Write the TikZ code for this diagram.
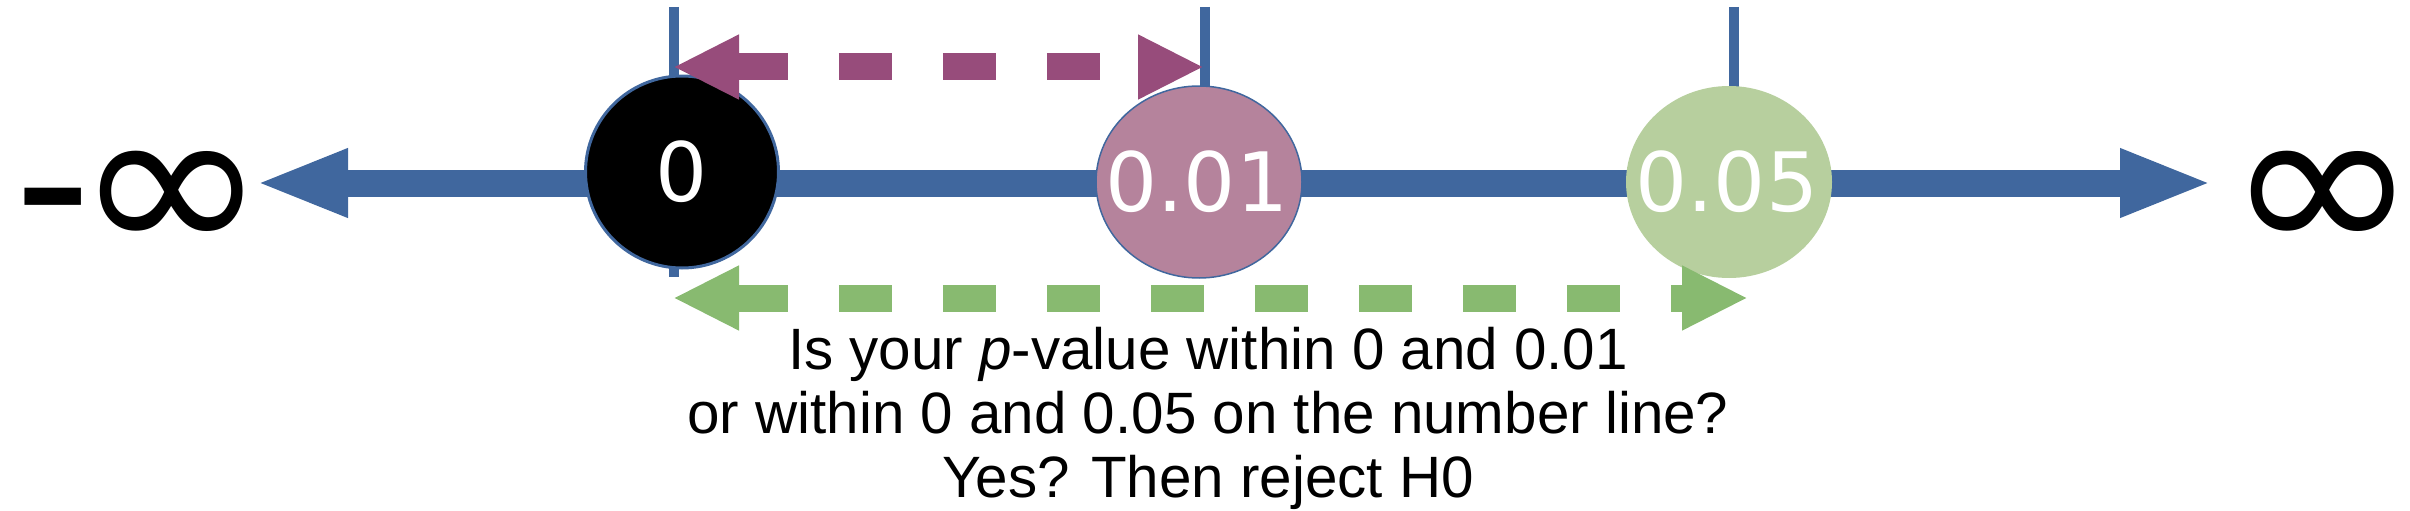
\documentclass[tikz,border=0pt]{standalone}
\usepackage{fontspec}
\setmainfont{Liberation Sans}
\newfontfamily\dejavu{DejaVu Sans}
\usetikzlibrary{positioning,shapes.geometric,arrows.meta}
\definecolor{lineblue}{RGB}{64,103,158}
\definecolor{plum}{RGB}{151,76,123}
\definecolor{plumlight}{RGB}{181,131,156}
\definecolor{leaf}{RGB}{136,186,112}
\definecolor{leaflight}{RGB}{183,207,158}

\begin{document}
\begin{tikzpicture}[x=0.1mm, y=0.1mm, value/.style={ellipse, inner sep=0pt, minimum width=20.6mm, minimum height=19.2mm}, valuetext/.style={inner sep=0pt, text=white, font=\dejavu\fontsize{23.3}{28}\selectfont}, infty/.style={inner sep=0pt, font=\dejavu\fontsize{61}{65}\selectfont}, tickmark/.style={lineblue, line width=1.05mm}, numline/.style={lineblue, line width=2.7mm, {Triangle[length=9.3mm,width=6.2mm]}-{Triangle[length=9.3mm,width=6.2mm]}}, rangearrow/.style={line width=2.7mm, dash pattern=on 5.3mm off 5.1mm, {Triangle[length=6.6mm,width=6mm]}-{Triangle[length=6.6mm,width=6mm]}}, question/.style={align=center, inner sep=0pt, font=\fontsize{16.6}{18.2}\selectfont}]
      \useasboundingbox (0,0) rectangle (2410,510);

      \coordinate (t0top) at (674,503);
      \coordinate (t0bot) at (674,233);
      \coordinate (t1top) at (1205,503);
      \coordinate (t1bot) at (1205,233);
      \coordinate (t5top) at (1734,503);
      \coordinate (t5bot) at (1734,233);

      \draw[tickmark] (t0top) -- (t0bot);
      \draw[tickmark] (t1top) -- (t1bot);
      \draw[tickmark] (t5top) -- (t5bot);

      \node [infty] (minf) at (141,307) {-\kern-4.8pt\scalebox{1.077}[1]{∞}};

      \node [infty] (pinf) at (2316,307) {\scalebox{1.077}[1]{∞}\kern-4pt};

      \coordinate (lineleft) at (255,327);
      \coordinate (lineright) at (2213,327);

      \draw[numline] (lineleft) -- (lineright);

      \node [value, fill=black, draw=lineblue, line width=0.3mm, minimum width=19.3mm] (zero) at (682,338) {};
      \node [valuetext] (zerotext) at (zero) {0};

      \node [value, fill=plumlight, draw=lineblue, line width=0.15mm] (alpha1) at (1199,328) {};
      \node [valuetext] (alpha1text) at (1197,328) {0.01};

      \node [value, fill=leaflight] (alpha5) at (1729,328) {};
      \node [valuetext] (alpha5text) at (1727,328) {0.05};

      \coordinate (plumleft) at (673,443);
      \coordinate (plumright) at (1204,443);
      \coordinate (leafleft) at (673,212);
      \coordinate (leafright) at (1748,212);

      \draw[rangearrow, plum] (plumleft) -- (plumright);

      \draw[rangearrow, leaf] (leafleft) -- (leafright);

      \node [question, anchor=north] (ask) at (1208,183) {Is your \textit{p}-value within 0 and 0.01\\or within 0 and 0.05 on the number line?\\Yes? Then reject H0};
    \end{tikzpicture}
\end{document}
